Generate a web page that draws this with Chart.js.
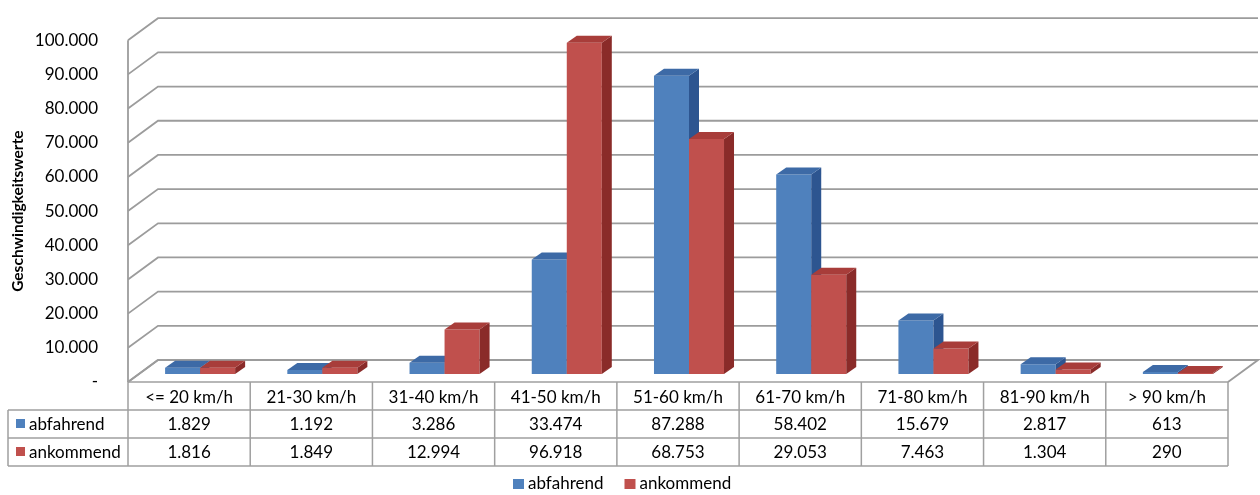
<!DOCTYPE html>
<html>
<head>
<meta charset="utf-8">
<script src="https://cdn.jsdelivr.net/npm/chart.js@4/dist/chart.umd.min.js"></script>
<style>
  html, body { margin: 0; padding: 0; background: #fff; }
  #wrap { width: 1260px; height: 495px; }
</style>
</head>
<body>
<div id="wrap"><canvas id="c" width="1260" height="495"></canvas></div>
<script>
// Speed classes and counts per direction
const categories = ['<= 20 km/h', '21-30 km/h', '31-40 km/h', '41-50 km/h', '51-60 km/h',
                    '61-70 km/h', '71-80 km/h', '81-90 km/h', '> 90 km/h'];
const abfahrend = [1829, 1192, 3286, 33474, 87288, 58402, 15679, 2817, 613];
const ankommend = [1816, 1849, 12994, 96918, 68753, 29053, 7463, 1304, 290];
const seriesNames = ['abfahrend', 'ankommend'];
const yTicks = [0, 10000, 20000, 30000, 40000, 50000, 60000, 70000, 80000, 90000, 100000];
const yTitle = 'Geschwindigkeitswerte';

// Look
const FONT = 'Lato';
const TEXT_SIZE = 17;
const COLORS = [
  { front: '#4f81bd', top: '#3d6aa6', side: '#2d5590' },
  { front: '#c0504d', top: '#a83d3a', side: '#8a2b29' }
];
const WALL = { dx: 30, dy: -22 };   // depth of floor and side wall
const PLANE = { dx: 11, dy: -8 };   // front plane of the columns
const DEPTH = { dx: 10, dy: -7 };   // depth of a column
const GRID = '#9c9c9c';
const TABLE_LINE = '#a0a0a0';

function fmt(v) {
  if (v === 0) return '-';
  return String(v).replace(/\B(?=(\d{3})+(?!\d))/g, '.');
}

function poly(ctx, pts, fill) {
  ctx.beginPath();
  ctx.moveTo(pts[0][0], pts[0][1]);
  for (let i = 1; i < pts.length; i++) ctx.lineTo(pts[i][0], pts[i][1]);
  ctx.closePath();
  ctx.fillStyle = fill;
  ctx.fill();
}

const box3d = {
  id: 'box3d',
  beforeDatasetsDraw(chart) {
    const { ctx, chartArea: a, scales: { y } } = chart;
    ctx.save();
    ctx.lineWidth = 1.8;
    ctx.strokeStyle = GRID;
    // floor
    ctx.beginPath();
    ctx.moveTo(a.left, a.bottom);
    ctx.lineTo(a.left + WALL.dx, a.bottom + WALL.dy);
    ctx.lineTo(a.right + WALL.dx, a.bottom + WALL.dy);
    ctx.lineTo(a.right, a.bottom);
    ctx.stroke();
    // back wall gridlines and side wall diagonals
    yTicks.forEach(v => {
      const py = y.getPixelForValue(v);
      ctx.beginPath();
      ctx.moveTo(a.left, py);
      ctx.lineTo(a.left + WALL.dx, py + WALL.dy);
      if (v !== 0) ctx.lineTo(a.right + WALL.dx, py + WALL.dy);
      ctx.stroke();
    });
    // front vertical edge of the side wall
    ctx.beginPath();
    ctx.moveTo(a.left, y.getPixelForValue(yTicks[yTicks.length - 1]));
    ctx.lineTo(a.left, a.bottom);
    ctx.stroke();
    ctx.restore();
  },
  // the columns are painted below, all together, in series order
  beforeDatasetDraw() { return false; },
  afterDatasetsDraw(chart) {
    // columns stand on a plane set back into the floor; each later column
    // hides the side face of the one before it
    const { ctx, chartArea: a } = chart;
    ctx.save();
    ctx.translate(PLANE.dx, PLANE.dy);
    chart.data.datasets.forEach((ds, i) => {
      const meta = chart.getDatasetMeta(i);
      const c = COLORS[i];
      meta.data.forEach(el => {
        el.draw(ctx, a);
        const l = el.x - el.width / 2, r = el.x + el.width / 2, t = el.y, b = el.base;
        poly(ctx, [[r, t], [r + DEPTH.dx, t + DEPTH.dy], [r + DEPTH.dx, b + DEPTH.dy], [r, b]], c.side);
        poly(ctx, [[l, t], [l + DEPTH.dx, t + DEPTH.dy], [r + DEPTH.dx, t + DEPTH.dy], [r, t]], c.top);
      });
    });
    ctx.restore();
  },
  afterDraw(chart) {
    const { ctx, chartArea: a } = chart;
    const n = categories.length;
    const colW = (a.right - a.left) / n;
    const rows = [a.bottom, 410, 438, 466];
    const keyLeft = 8;
    ctx.save();
    ctx.strokeStyle = TABLE_LINE;
    ctx.lineWidth = 1.5;
    // horizontal lines
    ctx.beginPath();
    ctx.moveTo(a.left, rows[0]); ctx.lineTo(a.right, rows[0]);
    for (let i = 1; i < rows.length; i++) { ctx.moveTo(keyLeft, rows[i]); ctx.lineTo(a.right, rows[i]); }
    // vertical lines
    for (let i = 0; i <= n; i++) {
      const x = a.left + i * colW;
      ctx.moveTo(x, rows[0]); ctx.lineTo(x, rows[3]);
    }
    ctx.moveTo(keyLeft, rows[1]); ctx.lineTo(keyLeft, rows[3]);
    ctx.stroke();

    ctx.fillStyle = '#000';
    ctx.font = TEXT_SIZE + 'px ' + FONT;
    ctx.textBaseline = 'middle';
    ctx.textAlign = 'center';
    const series = [abfahrend, ankommend];
    for (let i = 0; i < n; i++) {
      const cx = a.left + (i + 0.5) * colW;
      ctx.fillText(categories[i], cx, (rows[0] + rows[1]) / 2 + 2);
      series.forEach((s, k) => ctx.fillText(fmt(s[i]), cx, (rows[k + 1] + rows[k + 2]) / 2 + 1));
    }
    // series keys in the table
    ctx.textAlign = 'left';
    seriesNames.forEach((name, k) => {
      const cy = (rows[k + 1] + rows[k + 2]) / 2;
      ctx.fillStyle = COLORS[k].front;
      ctx.fillRect(16, cy - 5, 9, 9);
      ctx.fillStyle = '#000';
      ctx.fillText(name, 29, cy + 1);
    });
    // legend
    let x = 513;
    const ly = 484;
    seriesNames.forEach((name, k) => {
      ctx.fillStyle = COLORS[k].front;
      ctx.fillRect(x, ly - 5, 11, 10);
      ctx.fillStyle = '#000';
      ctx.fillText(name, x + 15, ly);
      x += 15 + ctx.measureText(name).width + 21;
    });
    ctx.restore();
  }
};

new Chart(document.getElementById('c'), {
  type: 'bar',
  data: {
    labels: categories,
    datasets: [
      { label: seriesNames[0], data: abfahrend, backgroundColor: COLORS[0].front,
        categoryPercentage: 0.573, barPercentage: 1, clip: false },
      { label: seriesNames[1], data: ankommend, backgroundColor: COLORS[1].front,
        categoryPercentage: 0.573, barPercentage: 1, clip: false }
    ]
  },
  options: {
    responsive: false,
    animation: false,
    devicePixelRatio: 1,
    layout: { padding: { top: 32, left: 0, right: 32, bottom: 0 } },
    plugins: { legend: { display: false }, tooltip: { enabled: false } },
    scales: {
      x: {
        ticks: { display: false },
        grid: { display: false },
        border: { display: false },
        afterFit: s => { s.height = 113; }
      },
      y: {
        min: 0, max: 100000,
        afterBuildTicks: s => { s.ticks = yTicks.map(v => ({ value: v })); },
        ticks: { callback: v => fmt(v), color: '#000', font: { family: FONT, size: TEXT_SIZE }, padding: 30 },
        grid: { display: false, drawTicks: false },
        border: { display: false },
        title: { display: true, text: yTitle, color: '#000',
                 font: { family: FONT, size: 15.5, weight: 'bold' }, padding: { top: 9, bottom: 0 } },
        afterFit: s => { s.width = 128; }
      }
    }
  },
  plugins: [box3d]
});
</script>
</body>
</html>
